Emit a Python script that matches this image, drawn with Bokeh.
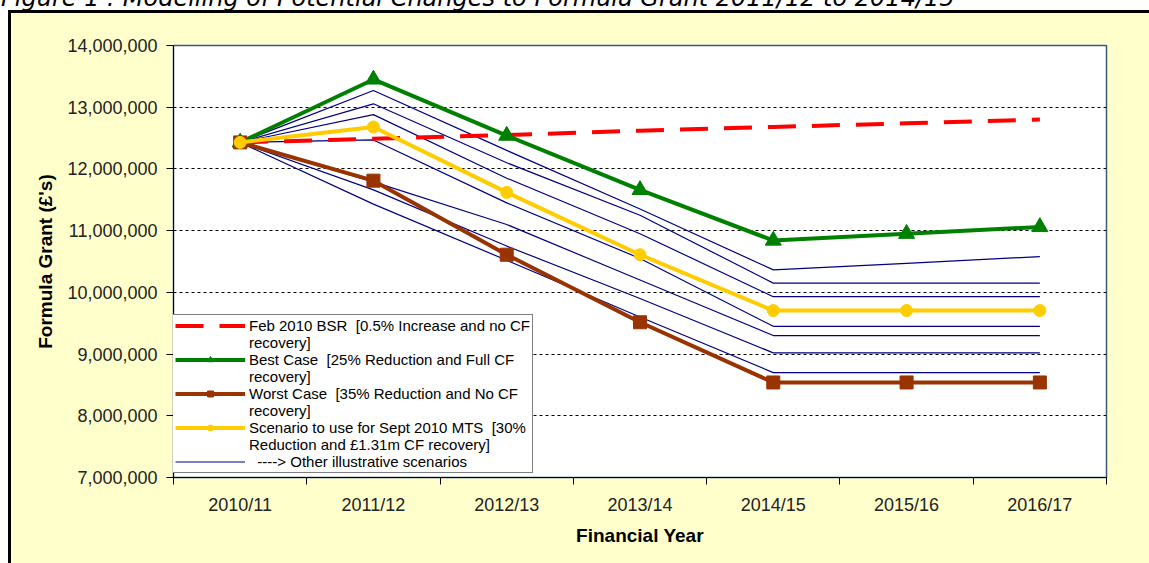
from bokeh.plotting import figure
from bokeh.models import (Range1d, FixedTicker, NumeralTickFormatter, Legend, LegendItem, Div)
from bokeh.embed import file_html
from bokeh.resources import INLINE

# ---------------- data ----------------
years = ["2010/11", "2011/12", "2012/13", "2013/14", "2014/15", "2015/16", "2016/17"]

feb_bsr    = [12430000, 12490000, 12550000, 12620000, 12680000, 12740000, 12800000]
best_case  = [12430000, 13450000, 12540000, 11660000, 10840000, 10950000, 11060000]
worst_case = [12430000, 11810000, 10610000,  9515000,  8540000,  8540000,  8540000]
sept_mts   = [12430000, 12680000, 11620000, 10610000,  9705000,  9705000,  9705000]

other_1 = [12430000, 13270000, 12300000, 11350000, 10365000, 10470000, 10580000]
other_2 = [12430000, 13055000, 12100000, 11250000, 10150000, 10150000, 10150000]
other_3 = [12430000, 12880000, 11850000, 10950000,  9930000,  9930000,  9930000]
other_4 = [12430000, 12470000, 11450000, 10550000,  9450000,  9450000,  9450000]
other_5 = [12430000, 11790000, 11100000, 10200000,  9300000,  9300000,  9300000]
other_6 = [12430000, 11660000, 10750000,  9900000,  9020000,  9020000,  9020000]
other_7 = [12430000, 11430000, 10520000,  9600000,  8700000,  8700000,  8700000]
others = [other_1, other_2, other_3, other_4, other_5, other_6, other_7]

y_ticks = [7000000, 8000000, 9000000, 10000000, 11000000, 12000000, 13000000, 14000000]

title_text = "Figure 1 : Modelling of Potential Changes to Formula Grant 2011/12 to 2014/15"
# legend labels, each wrapped over two rows as in the source
labels = [
    ("Feb 2010 BSR  [0.5% Increase and no CF", "recovery]"),
    ("Best Case  [25% Reduction and Full CF", "recovery]"),
    ("Worst Case  [35% Reduction and No CF", "recovery]"),
    ("Scenario to use for Sept 2010 MTS  [30%", "Reduction and \u00a31.31m CF recovery]"),
    ("  ----> Other illustrative scenarios", None),
]

# ---------------- styling ----------------
FONT = "Liberation Sans"

x = [i + 0.5 for i in range(len(years))]

p = figure(width=1149, height=563, output_backend="svg", toolbar_location=None,
           x_range=Range1d(0, len(years)), y_range=Range1d(y_ticks[0], y_ticks[-1]),
           min_border_left=173, min_border_right=43, min_border_top=45, min_border_bottom=86)
# chart area (yellow box with thick black left/top border) painted behind a transparent canvas
p.border_fill_alpha = 0
p.styles = {
    "background": ("linear-gradient(#000,#000) 8px 10px / 3px 100% no-repeat, "
                   "linear-gradient(#000,#000) 8px 10px / 100% 3px no-repeat, "
                   "linear-gradient(#FFFFCC,#FFFFCC) 8px 10px / 100% 100% no-repeat, #ffffff"),
}
p.background_fill_color = "white"
p.outline_line_color = "#3B5A7E"
p.outline_line_width = 1.5

# axes
p.xaxis.ticker = FixedTicker(ticks=x, minor_ticks=list(range(len(years) + 1)))
p.xaxis.major_label_overrides = {xi: yr for xi, yr in zip(x, years)}
p.xaxis.major_tick_out = 0
p.xaxis.major_tick_in = 0
p.xaxis.minor_tick_out = 7
p.xaxis.minor_tick_in = 0
p.xaxis.minor_tick_line_color = "black"
p.xaxis.axis_line_color = "black"
p.xaxis.major_label_standoff = 10
p.xaxis.axis_label = "Financial Year"
p.xaxis.axis_label_standoff = 7

p.yaxis.ticker = FixedTicker(ticks=y_ticks)
p.yaxis.formatter = NumeralTickFormatter(format="0,0")
p.yaxis.major_tick_out = 7
p.yaxis.major_tick_in = 0
p.yaxis.minor_tick_line_color = None
p.yaxis.major_tick_line_color = "black"
p.yaxis.axis_line_color = "black"
p.yaxis.major_label_standoff = 9
p.yaxis.axis_label = "Formula Grant (\u00a3's)"
p.yaxis.axis_label_standoff = 8

for ax in (p.xaxis[0], p.yaxis[0]):
    ax.major_label_text_font = FONT
    ax.major_label_text_font_size = "18px"
    ax.major_label_text_color = "#222222"
    ax.axis_label_text_font = FONT
    ax.axis_label_text_font_size = "19px"
    ax.axis_label_text_font_style = "bold"
    ax.axis_label_text_color = "black"

p.xgrid.visible = False
p.ygrid.ticker = FixedTicker(ticks=y_ticks)
p.ygrid.grid_line_color = "black"
p.ygrid.grid_line_dash = "3 3"
p.ygrid.grid_line_width = 1

# ---------------- series ----------------
other_renderers = []
for s in others:
    r = p.line(x, s, line_color="#000080", line_width=1.2)
    other_renderers.append(r)

r_red = p.line(x, feb_bsr, line_color="#FF0000", line_width=4, line_dash="28 16")

r_green = p.line(x, best_case, line_color="#008000", line_width=4)
m_green = p.scatter(x, best_case, marker="triangle", size=16, fill_color="#008000",
                    line_color="#008000")

r_brown = p.line(x, worst_case, line_color="#993300", line_width=4)
m_brown = p.scatter(x, worst_case, marker="square", size=13, fill_color="#993300",
                    line_color="#993300")

r_yel = p.line(x, sept_mts, line_color="#FFCC00", line_width=4)
m_yel = p.scatter(x, sept_mts, marker="circle", size=12, fill_color="#FFCC00",
                  line_color="#FFCC00")

# an invisible renderer carries the wrapped second row of each legend label
blank = p.line([], [], line_alpha=0)

series_renderers = [[r_red], [r_green, m_green], [r_brown, m_brown], [r_yel, m_yel],
                    [other_renderers[0]]]
items = []
for (first, second), rends in zip(labels, series_renderers):
    items.append(LegendItem(label=first, renderers=rends))
    if second:
        items.append(LegendItem(label=second, renderers=[blank]))

legend = Legend(items=items, location=(-1, 4))
legend.margin = 0
legend.padding = 2
legend.spacing = 0
legend.glyph_width = 70
legend.glyph_height = 15
legend.label_height = 15
legend.label_standoff = 4
legend.label_text_font = FONT
legend.label_text_font_size = "15px"
legend.label_text_color = "black"
legend.border_line_color = "black"
legend.border_line_width = 1
legend.background_fill_color = "white"
legend.background_fill_alpha = 1
p.add_layout(legend)

# page title above the chart, partly cut off at the top edge as in the source
title = Div(text=('<span style="display:block; white-space:nowrap; font-family:\'DejaVu Sans\'; '
                  'font-style:italic; font-size:24px; line-height:24px; color:black;">'
                  + title_text + '</span>'),
            width=1000, height=24,
            styles={"position": "absolute", "top": "-19px", "left": "-4px"})

open("out.html", "w").write(file_html([p, title], INLINE))
